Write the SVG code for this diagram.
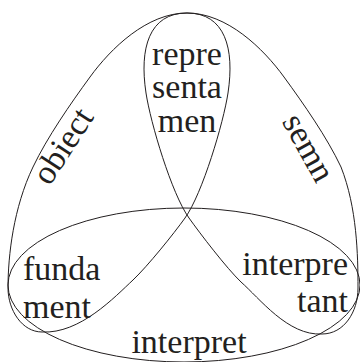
<svg xmlns="http://www.w3.org/2000/svg" width="360" height="362" viewBox="0 0 360 362">
<defs>
<style>
.c{fill:none;stroke:#231f20;stroke-width:1}
.t{font-family:"Liberation Serif","Times New Roman",serif;font-size:34px;fill:#231f20}
</style>
</defs>
<rect width="360" height="362" fill="#fff"/>
<g id="connectors">
<path id="loopL" class="c" d="M187,13 C147,13 110.6,48.6 90,77 C70.5,103.7 47.2,137.3 33,167 C13.6,207.5 8,255 8,288 C8,310 22,332 42,332 C80,334 114.7,297 133,280 C147.6,266.2 173.4,234.2 185,218 C202.4,193.7 223.5,122.7 228,93 C234.8,48.5 225,13 187,13 Z"/>
<path id="loopR" class="c" d="M187,13 C227,13 263.4,48.6 284,77 C303.5,103.7 327,137.3 341,167 C357,207.5 358,255 358,288 C358,312 344,334 322,334 C288,336 259.3,298 241,282 C226.4,268 200.6,234.2 189,218 C171.6,193.7 150.5,122.7 146,93 C139.2,48.5 149,13 187,13 Z"/>
<ellipse id="loopB" class="c" cx="184" cy="285" rx="176" ry="77"/>
</g>
<g id="representamen">
<text class="t" x="187" y="65" text-anchor="middle">repre</text>
<text class="t" x="187" y="98" text-anchor="middle">senta</text>
<text class="t" x="187" y="132" text-anchor="middle">men</text>
</g>
<g id="fundament">
<text class="t" x="23" y="280">funda</text>
<text class="t" x="23" y="318">ment</text>
</g>
<g id="interpretant">
<text class="t" x="348" y="275" text-anchor="end">interpre</text>
<text class="t" x="348" y="312" text-anchor="end">tant</text>
</g>
<g id="interpret">
<text class="t" x="189" y="353" text-anchor="middle">interpret</text>
</g>
<g id="obiect">
<text class="t" text-anchor="middle" transform="translate(72,152) rotate(-57)">obiect</text>
</g>
<g id="semn">
<text class="t" text-anchor="middle" transform="translate(299,153) rotate(61)">semn</text>
</g>
</svg>
